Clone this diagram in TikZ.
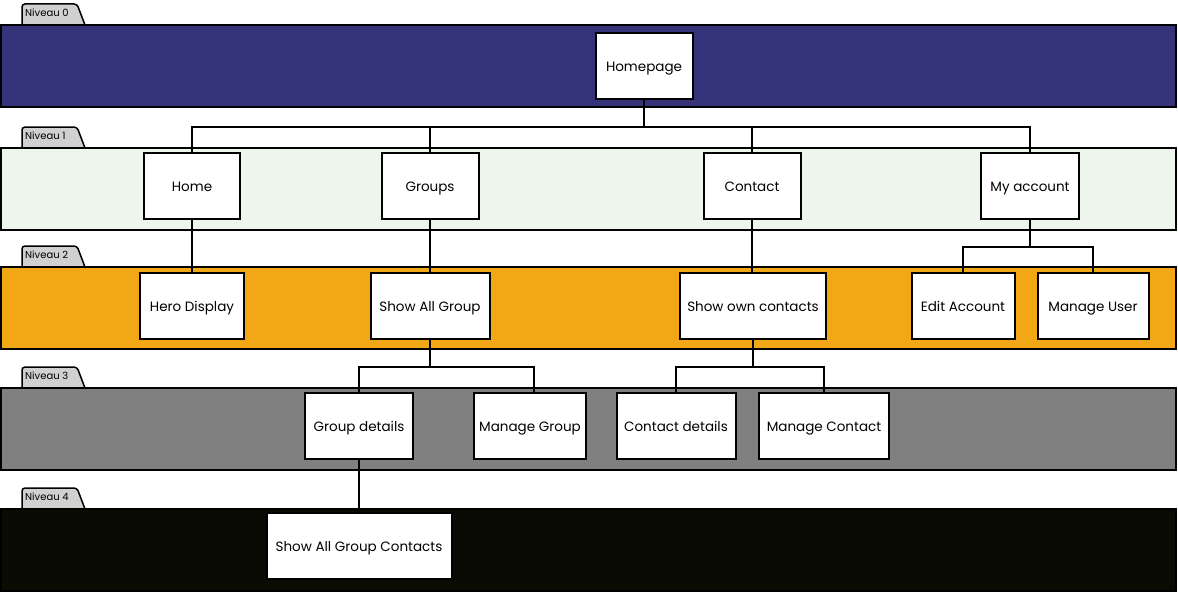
\documentclass[tikz,border=0pt]{standalone}
\usepackage{fontspec}
\setmainfont{Poppins}
\definecolor{lv0}{HTML}{353379}
\definecolor{lv1}{HTML}{EEF5EC}
\definecolor{lv2}{HTML}{F2A716}
\definecolor{lv3}{HTML}{808080}
\definecolor{lv4}{HTML}{0A0C04}
\definecolor{tabgray}{HTML}{D0D0D0}
\tikzset{
  band/.style={draw=black, line width=2pt},
  tabshape/.style={draw=black, line width=1.5pt, fill=tabgray, rounded corners=3pt},
  tablabel/.style={font=\fontsize{10}{11}\selectfont, inner sep=0pt},
  pagebox/.style={draw=black, line width=2pt, fill=white, minimum height=66pt, font=\fontsize{13.5}{15}\selectfont, text height=11pt, text depth=0pt, inner sep=2pt},
  link/.style={draw=black, line width=1.5pt}
}
\begin{document}
\begin{tikzpicture}[x=1pt,y=-1pt]
\useasboundingbox (0,0) rectangle (1178,594);
% bands and tabs
\foreach \top/\col/\lab in {25/lv0/0,148/lv1/1,267/lv2/2,388/lv3/3,509/lv4/4}{
  \draw[tabshape] (22,\top) -- (22,{\top-21}) -- (77,{\top-21}) -- (85,\top);
  \node[tablabel, anchor=west] (tab\lab) at (25,{\top-12}) {Niveau \lab};
  \draw[band, fill=\col] (1,\top) rectangle (1176,{\top+82});
}
% level 0
\node[pagebox, minimum width=97pt] (homepage) at (644,66) {Homepage};
% level 1
\node[pagebox, minimum width=96pt] (home) at (192,186) {Home};
\node[pagebox, minimum width=97pt] (groups) at (430,186) {Groups};
\node[pagebox, minimum width=97pt] (contact) at (752,186) {Contact};
\node[pagebox, minimum width=98pt] (myaccount) at (1030,186) {My account};
% level 2
\node[pagebox, minimum width=104pt] (hero) at (192,306) {Hero Display};
\node[pagebox, minimum width=119pt] (showallgroup) at (430,306) {Show All Group};
\node[pagebox, minimum width=146pt] (owncontacts) at (753,306) {Show own contacts};
\node[pagebox, minimum width=103pt] (editaccount) at (963,306) {Edit Account};
\node[pagebox, minimum width=111pt] (manageuser) at (1093,306) {Manage User};
% level 3
\node[pagebox, minimum width=108pt] (groupdetails) at (359,426) {Group details};
\node[pagebox, minimum width=112pt] (managegroup) at (530,426) {Manage Group};
\node[pagebox, minimum width=119pt] (contactdetails) at (676,426) {Contact details};
\node[pagebox, minimum width=130pt] (managecontact) at (824,426) {Manage Contact};
% level 4
\node[pagebox, minimum width=185pt] (allgroupcontacts) at (359,546) {Show All Group Contacts};
% connectors
\coordinate (b0) at (644,127);
\draw[link] (homepage.south) -- (b0);
\draw[link] (b0) -| (home.north);
\draw[link] (b0) -| (groups.north);
\draw[link] (b0) -| (contact.north);
\draw[link] (b0) -| (myaccount.north);
\draw[link] (home.south) -- (hero.north);
\draw[link] (groups.south) -- (showallgroup.north);
\draw[link] (contact.south) -- (owncontacts.north -| contact.south);
\coordinate (b1) at (1030,247);
\draw[link] (myaccount.south) -- (b1);
\draw[link] (b1) -| (editaccount.north);
\draw[link] (b1) -| (manageuser.north);
\coordinate (b2) at (430,367);
\draw[link] (showallgroup.south) -- (b2);
\draw[link] (b2) -| (groupdetails.north);
\draw[link] (b2) -| ([xshift=4pt]managegroup.north);
\coordinate (b3) at (753,367);
\draw[link] (owncontacts.south) -- (b3);
\draw[link] (b3) -| (contactdetails.north);
\draw[link] (b3) -| (managecontact.north);
\draw[link] (groupdetails.south) -- (allgroupcontacts.north);
\end{tikzpicture}
\end{document}
